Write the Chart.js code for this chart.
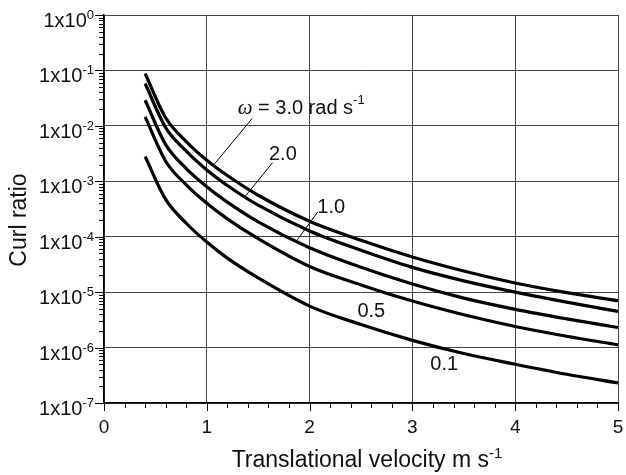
<!DOCTYPE html>
<html>
<head>
<meta charset="utf-8">
<script src="https://cdn.jsdelivr.net/npm/chart.js@4.4.0/dist/chart.umd.min.js"></script>
<style>
  html, body { margin: 0; padding: 0; background: #fff; }
  #wrap { width: 626px; height: 475px; }
</style>
</head>
<body>
<div id="wrap"><canvas id="curl" width="626" height="475"></canvas></div>
<script>
// translational velocity (m/s)
const velocity = [0.4, 0.6, 0.8, 1.0, 1.2, 1.5, 2.0, 2.5, 3.0, 3.5, 4.0, 4.5, 5.0];

// curl ratio for each rotation rate
const omega30 = [8.8e-2, 1.4e-2, 5.2e-3, 2.4e-3, 1.27e-3, 5.6e-4, 1.9e-4, 8.6e-5, 4.3e-5, 2.4e-5, 1.46e-5, 9.8e-6, 7.0e-6];
const omega20 = [5.8e-2, 9.3e-3, 3.5e-3, 1.6e-3, 8.4e-4, 3.7e-4, 1.27e-4, 5.7e-5, 2.8e-5, 1.6e-5, 1.0e-5, 6.6e-6, 4.5e-6];
const omega10 = [2.9e-2, 4.6e-3, 1.7e-3, 8.0e-4, 4.2e-4, 1.85e-4, 6.3e-5, 2.8e-5, 1.4e-5, 7.8e-6, 4.9e-6, 3.3e-6, 2.3e-6];
const omega05 = [1.45e-2, 2.3e-3, 8.6e-4, 4.0e-4, 2.1e-4, 9.2e-5, 2.9e-5, 1.35e-5, 6.9e-6, 3.9e-6, 2.4e-6, 1.6e-6, 1.12e-6];
const omega01 = [2.8e-3, 4.7e-4, 1.75e-4, 8.0e-5, 4.1e-5, 1.8e-5, 5.6e-6, 2.6e-6, 1.35e-6, 7.8e-7, 5.0e-7, 3.3e-7, 2.3e-7];

const seriesNames = ['3.0', '2.0', '1.0', '0.5', '0.1'];
const seriesValues = [omega30, omega20, omega10, omega05, omega01];

const xTickLabels = ['0', '1', '2', '3', '4', '5'];
const yExponents = [0, -1, -2, -3, -4, -5, -6, -7];

// curve labels and leader lines, in data units
const curveLabels = [
  { text: '3.0', x: 1.30, y: 2.1e-2, full: true, from: [1.44, 1.35e-2], to: [1.07, 2.0e-3] },
  { text: '2.0', x: 1.74, y: 3.0e-3, from: [1.64, 2.16e-3], to: [1.37, 5.25e-4] },
  { text: '1.0', x: 2.21, y: 3.3e-4, from: [2.08, 2.8e-4], to: [1.88, 8.8e-5] },
  { text: '0.5', x: 2.60, y: 4.4e-6 },
  { text: '0.1', x: 3.31, y: 4.9e-7 }
];

const SANS = '"Liberation Sans", Arial, Helvetica, sans-serif';

function supText(ctx, base, sup, x, y, align, size, supSize, lift) {
  ctx.font = size + 'px ' + SANS;
  const wb = ctx.measureText(base).width;
  ctx.font = supSize + 'px ' + SANS;
  const ws = ctx.measureText(sup).width;
  let x0 = x;
  if (align === 'right') x0 = x - wb - ws;
  if (align === 'center') x0 = x - (wb + ws) / 2;
  ctx.textAlign = 'left';
  ctx.textBaseline = 'alphabetic';
  ctx.font = size + 'px ' + SANS;
  ctx.fillText(base, x0, y);
  ctx.font = supSize + 'px ' + SANS;
  ctx.fillText(sup, x0 + wb, y - lift);
}

const decor = {
  id: 'decor',
  afterDraw(chart) {
    const { ctx, chartArea: area } = chart;
    const xs = chart.scales.x, ys = chart.scales.y;
    ctx.save();
    ctx.strokeStyle = '#000';
    ctx.fillStyle = '#111';
    ctx.lineWidth = 1;

    // y ticks: majors at decades, minors 2..9
    yExponents.forEach(e => {
      const py = Math.round(ys.getPixelForValue(Math.pow(10, e))) + 0.5;
      ctx.beginPath();
      ctx.moveTo(area.left - 9, py);
      ctx.lineTo(area.left, py);
      ctx.stroke();
      supText(ctx, '1x10', String(e), area.left - 10, py + 11.5, 'right', 20, 13, 8.5);
      if (e === 0) return;
      for (let d = 2; d <= 9; d++) {
        const my = Math.round(ys.getPixelForValue(d * Math.pow(10, e))) + 0.5;
        ctx.beginPath();
        ctx.moveTo(area.left - 5, my);
        ctx.lineTo(area.left, my);
        ctx.stroke();
      }
    });

    // x ticks every 0.2, labels at integers
    for (let i = 0; i <= 25; i++) {
      const px = Math.round(xs.getPixelForValue(i * 0.2)) + 0.5;
      const len = i % 5 === 0 ? 8 : 5;
      ctx.beginPath();
      ctx.moveTo(px, area.bottom);
      ctx.lineTo(px, area.bottom + len);
      ctx.stroke();
    }
    ctx.font = '19px ' + SANS;
    ctx.textAlign = 'center';
    ctx.textBaseline = 'alphabetic';
    xTickLabels.forEach(t => {
      ctx.fillText(t, xs.getPixelForValue(Number(t)), 433);
    });

    // axis titles
    supText(ctx, 'Translational velocity m s', '-1', 367, 467, 'center', 23, 15, 9);
    ctx.save();
    ctx.translate(26, 220);
    ctx.rotate(-Math.PI / 2);
    ctx.font = '23px ' + SANS;
    ctx.textAlign = 'center';
    ctx.textBaseline = 'alphabetic';
    ctx.fillText('Curl ratio', 0, 0);
    ctx.restore();

    // curve labels with leader lines
    curveLabels.forEach(l => {
      const px = xs.getPixelForValue(l.x), py = ys.getPixelForValue(l.y);
      if (l.from) {
        ctx.beginPath();
        ctx.moveTo(xs.getPixelForValue(l.from[0]), ys.getPixelForValue(l.from[1]));
        ctx.lineTo(xs.getPixelForValue(l.to[0]), ys.getPixelForValue(l.to[1]));
        ctx.stroke();
      }
      if (l.full) {
        ctx.textAlign = 'left';
        ctx.textBaseline = 'middle';
        ctx.font = 'italic 21px "Liberation Serif", "Times New Roman", serif';
        ctx.fillText('\u03c9', px, py);
        const w0 = ctx.measureText('\u03c9').width;
        ctx.font = '20px ' + SANS;
        const rest = ' = ' + l.text + ' rad s';
        ctx.fillText(rest, px + w0, py);
        const w1 = ctx.measureText(rest).width;
        ctx.font = '13px ' + SANS;
        ctx.fillText('-1', px + w0 + w1, py - 8);
      } else {
        ctx.textAlign = 'center';
        ctx.textBaseline = 'middle';
        ctx.font = '20px ' + SANS;
        ctx.fillText(l.text, px, py);
      }
    });
    ctx.restore();
  }
};

const datasets = seriesNames.map((name, k) => ({
  label: name,
  data: velocity.map((v, i) => ({ x: v, y: seriesValues[k][i] })),
  borderColor: '#000',
  borderWidth: 3.2,
  pointRadius: 0,
  fill: false,
  cubicInterpolationMode: 'monotone'
}));

new Chart(document.getElementById('curl').getContext('2d'), {
  type: 'line',
  data: { datasets },
  plugins: [decor],
  options: {
    responsive: false,
    animation: false,
    layout: { padding: { top: 15, right: 8, left: 0, bottom: 0 } },
    plugins: { legend: { display: false }, tooltip: { enabled: false } },
    scales: {
      x: {
        type: 'linear', min: 0, max: 5,
        ticks: { display: false, stepSize: 1 },
        grid: { color: '#444', lineWidth: 1, drawTicks: false },
        border: { color: '#000', width: 1.5 },
        afterFit: s => { s.height = 72; }
      },
      y: {
        type: 'logarithmic', min: 1e-7, max: 1,
        ticks: { display: false },
        afterBuildTicks: s => { s.ticks = yExponents.map(e => ({ value: Math.pow(10, e) })); },
        grid: { color: '#444', lineWidth: 1, drawTicks: false },
        border: { color: '#000', width: 1.5 },
        afterFit: s => { s.width = 104; }
      }
    }
  }
});
</script>
</body>
</html>
